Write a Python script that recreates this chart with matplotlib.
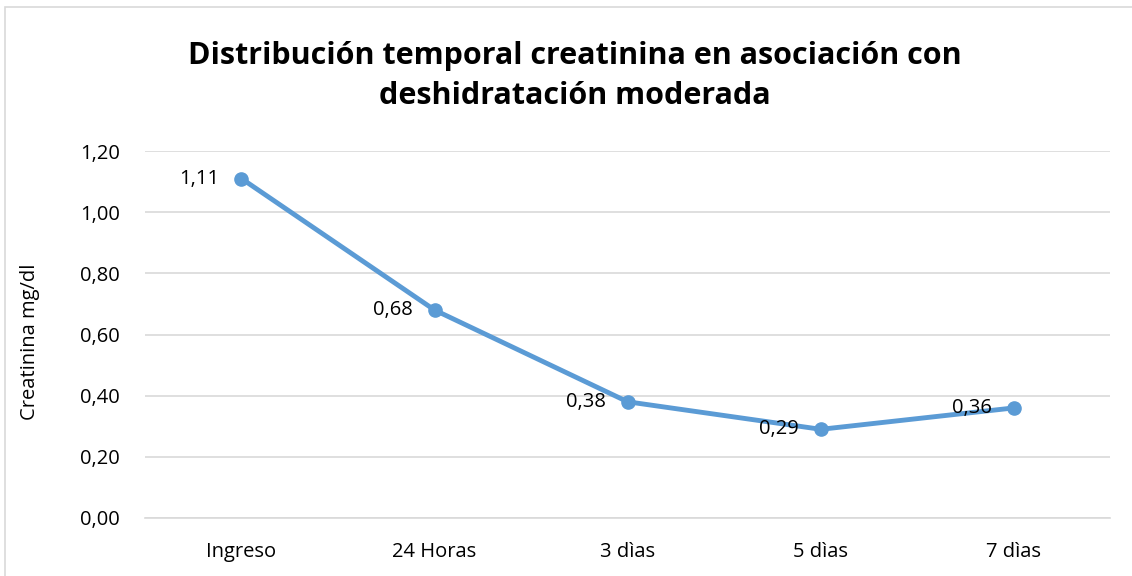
import matplotlib
matplotlib.use("Agg")
import matplotlib.pyplot as plt
from matplotlib.patches import Rectangle
from matplotlib.ticker import FuncFormatter

# datos del gráfico
categorias = ["Ingreso", "24 Horas", "3 dìas", "5 dìas", "7 dìas"]
creatinina = [1.11, 0.68, 0.38, 0.29, 0.36]
yticks = [0.0, 0.2, 0.4, 0.6, 0.8, 1.0, 1.2]

plt.rcParams['font.family'] = ['Open Sans', 'DejaVu Sans']

fig = plt.figure(figsize=(11.32, 5.76), dpi=100)
ax = fig.add_axes([0.128, 0.1007, 0.853, 0.6371])

x = list(range(len(categorias)))
ax.plot(x, creatinina, color='#5B9BD5', linewidth=3.5, marker='o',
        markersize=9.5, zorder=3)

for xi, v in zip(x, creatinina):
    ax.annotate(f"{v:.2f}".replace('.', ','), (xi, v), xytext=(-16, 0),
                textcoords='offset points', ha='right', va='center',
                fontsize=14.5, color='black', zorder=4)

ax.set_xlim(-0.5, len(categorias) - 0.5)
ax.set_ylim(0, 1.2)
ax.set_yticks(yticks)
ax.yaxis.set_major_formatter(FuncFormatter(lambda v, p: f"{v:.2f}".replace('.', ',')))
ax.set_xticks(x)
ax.set_xticklabels(categorias)
ax.tick_params(axis='both', length=0, labelsize=14.5)
ax.tick_params(axis='x', pad=17)
ax.tick_params(axis='y', pad=18)
ax.grid(axis='y', color='#D9D9D9', linewidth=1.2)
ax.set_axisbelow(True)
for s in ['top', 'right', 'left']:
    ax.spines[s].set_visible(False)
ax.spines['bottom'].set_color('#D9D9D9')
ax.spines['bottom'].set_linewidth(1.2)

ax.set_ylabel("Creatinina mg/dl", fontsize=14.5)
ax.yaxis.set_label_coords(-0.109, 0.48)

fig.text(0.508, 0.868, "Distribución temporal creatinina en asociación con\ndeshidratación moderada",
         ha='center', va='center', fontsize=22, fontweight='bold', linespacing=1.45)

# borde del gráfico (derecha y abajo quedan fuera de la imagen)
fig.patches.append(Rectangle((0.0045, -0.01), 1.1, 0.998, transform=fig.transFigure,
                             fill=False, edgecolor='#D9D9D9', linewidth=1.2))

fig.savefig("out.png", dpi=100)
